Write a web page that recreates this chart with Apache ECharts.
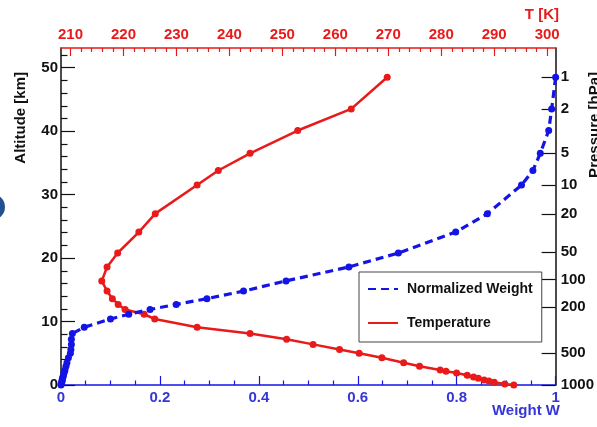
<!DOCTYPE html>
<html><head><meta charset="utf-8">
<script src="https://cdn.jsdelivr.net/npm/echarts@6/dist/echarts.min.js"></script>
<style>html,body{margin:0;padding:0;background:#fff}#c{width:597px;height:427px}</style>
</head><body><div id="c"></div>
<script>
// ---- data ----
const levelAltitudes = [48.5, 43.5, 40.1, 36.5, 33.8, 31.5, 27.0, 24.1, 20.8, 18.6, 16.4, 14.8, 13.6, 12.7, 11.9, 11.15, 10.4, 9.1, 8.1, 7.2, 6.4, 5.6, 5.0, 4.3, 3.5, 2.95, 2.37, 2.16, 1.9, 1.53, 1.26, 1.05, 0.79, 0.63, 0.43, 0.16, 0];
const weightValues = [1.0, 0.992, 0.986, 0.969, 0.954, 0.931, 0.862, 0.798, 0.682, 0.582, 0.455, 0.369, 0.295, 0.233, 0.180, 0.137, 0.100, 0.047, 0.023, 0.021, 0.021, 0.020, 0.019, 0.015, 0.012, 0.010, 0.008, 0.007, 0.006, 0.005, 0.004, 0.003, 0.0025, 0.002, 0.0015, 0.0005, 0];
const temperatureValues = [269.8, 263.0, 252.9, 243.9, 237.9, 233.9, 226.0, 222.9, 218.9, 216.9, 215.9, 216.9, 217.9, 219.0, 220.3, 223.9, 225.9, 233.9, 243.9, 250.8, 255.8, 260.8, 264.5, 268.8, 272.9, 275.9, 279.8, 280.9, 282.9, 284.9, 286.1, 287.0, 288.1, 289.0, 290.0, 292.0, 293.7];

const weightTicks = [0, 0.2, 0.4, 0.6, 0.8, 1];
const temperatureTicks = [210, 220, 230, 240, 250, 260, 270, 280, 290, 300];
const altitudeTicks = [0, 10, 20, 30, 40, 50];
const pressureTickLabels = ['1', '2', '5', '10', '20', '50', '100', '200', '500', '1000'];
const pressureTickAltitudes = [48.5, 43.5, 36.5, 31.5, 26.9, 20.9, 16.6, 12.3, 5.0, 0];

// ---- helpers ----
function minorList(min, max, step, major) {
  const out = [];
  for (let v = min; v <= max + 1e-9; v += step) {
    const r = Math.round(v * 10000) / 10000;
    if (Math.abs(r / major - Math.round(r / major)) > 1e-6) out.push(r);
  }
  return out;
}
const weightMinor = minorList(0, 1, 0.05, 0.2);
const tempMinor = minorList(210, 300, 2, 10);
const altMinor = minorList(0, 52, 2, 10);

const FONT = '"Liberation Sans", Arial, Helvetica, sans-serif';
const RED = '#e81a1a', BLUE = '#1414e6', BLUE_TXT = '#3636d6', BLACK = '#111111';
const T_MIN = 208.2, T_MAX = 301.6, Z_MAX = 53.1;

const lbl = (color, margin) => ({ color, fontWeight: 'bold', fontSize: 15, fontFamily: FONT, margin });

const chart = echarts.init(document.getElementById('c'));
chart.setOption({
  animation: false,
  backgroundColor: '#ffffff',
  grid: { left: 61, right: 38, top: 48, bottom: 42, containLabel: false },
  legend: {
    orient: 'vertical', left: 359, top: 272,
    padding: [10, 9, 12, 8], itemGap: 20, itemWidth: 30, itemHeight: 14,
    backgroundColor: '#ffffff', borderColor: '#444', borderWidth: 1,
    itemStyle: { opacity: 0 },
    textStyle: { fontFamily: FONT, fontWeight: 'bold', fontSize: 14, color: BLACK, padding: [0, 0, 0, 4] },
    data: ['Normalized Weight', 'Temperature']
  },
  xAxis: [
    { type: 'value', position: 'bottom', min: 0, max: 1,
      axisLine: { onZero: false, lineStyle: { color: BLUE, width: 1.5 } },
      axisTick: { inside: true, length: 9, customValues: weightTicks, lineStyle: { color: BLUE, width: 1.2 } },
      axisLabel: Object.assign({ customValues: weightTicks }, lbl(BLUE_TXT, 5)),
      splitLine: { show: false } },
    { type: 'value', position: 'top', min: T_MIN, max: T_MAX,
      axisLine: { onZero: false, lineStyle: { color: RED, width: 1.5 } },
      axisTick: { inside: true, length: 8, customValues: temperatureTicks, lineStyle: { color: RED, width: 1.2 } },
      axisLabel: Object.assign({ customValues: temperatureTicks }, lbl(RED, 6)),
      splitLine: { show: false } },
    { type: 'value', position: 'bottom', min: 0, max: 1,
      axisLine: { show: false, onZero: false },
      axisTick: { inside: true, length: 4.5, customValues: weightMinor, lineStyle: { color: BLUE, width: 1.2 } },
      axisLabel: { show: false }, splitLine: { show: false } },
    { type: 'value', position: 'top', min: T_MIN, max: T_MAX,
      axisLine: { show: false, onZero: false },
      axisTick: { inside: true, length: 4, customValues: tempMinor, lineStyle: { color: RED, width: 1.2 } },
      axisLabel: { show: false }, splitLine: { show: false } }
  ],
  yAxis: [
    { type: 'value', position: 'left', min: 0, max: Z_MAX,
      axisLine: { onZero: false, lineStyle: { color: BLACK, width: 1.5 } },
      axisTick: { inside: true, length: 14, customValues: altitudeTicks, lineStyle: { color: BLACK, width: 1.2 } },
      axisLabel: Object.assign({ customValues: altitudeTicks }, lbl(BLACK, 3)),
      splitLine: { show: false } },
    { type: 'value', position: 'left', min: 0, max: Z_MAX,
      axisLine: { show: false, onZero: false },
      axisTick: { inside: true, length: 6.5, customValues: altMinor, lineStyle: { color: BLACK, width: 1.2 } },
      axisLabel: { show: false }, splitLine: { show: false } },
    { type: 'value', position: 'right', min: 0, max: Z_MAX,
      axisLine: { onZero: false, lineStyle: { color: BLACK, width: 1.5 } },
      axisTick: { inside: true, length: 14, customValues: pressureTickAltitudes, lineStyle: { color: BLACK, width: 1.2 } },
      axisLabel: Object.assign({
        customValues: pressureTickAltitudes,
        formatter: function (v) {
          const i = pressureTickAltitudes.findIndex(a => Math.abs(a - v) < 1e-6);
          return i >= 0 ? pressureTickLabels[i] : '';
        }
      }, lbl(BLACK, 5)),
      splitLine: { show: false } }
  ],
  series: [
    { type: 'line', name: 'Normalized Weight', xAxisIndex: 0, yAxisIndex: 0, clip: false,
      data: weightValues.map((w, i) => [w, levelAltitudes[i]]),
      symbol: 'circle', symbolSize: 7, showSymbol: true,
      lineStyle: { color: BLUE, width: 3.2, type: [8, 5] },
      itemStyle: { color: BLUE }, z: 3 },
    { type: 'line', name: 'Temperature', xAxisIndex: 1, yAxisIndex: 0, clip: false,
      data: temperatureValues.map((t, i) => [t, levelAltitudes[i]]),
      symbol: 'circle', symbolSize: 7, showSymbol: true,
      lineStyle: { color: RED, width: 2.5 },
      itemStyle: { color: RED }, z: 2 }
  ],
  graphic: [
    { type: 'text', x: 21, y: 72, rotation: Math.PI / 2,
      style: { text: 'Altitude [km]', fill: BLACK, font: 'bold 15px ' + FONT, textAlign: 'right', textVerticalAlign: 'middle' } },
    { type: 'text', x: 595, y: 72, rotation: Math.PI / 2,
      style: { text: 'Pressure [hPa]', fill: BLACK, font: 'bold 15px ' + FONT, textAlign: 'right', textVerticalAlign: 'middle' } },
    { type: 'text', x: 559, y: 15,
      style: { text: 'T [K]', fill: RED, font: 'bold 15px ' + FONT, textAlign: 'right', textVerticalAlign: 'middle' } },
    { type: 'text', x: 560, y: 411,
      style: { text: 'Weight W', fill: BLUE_TXT, font: 'bold 15px ' + FONT, textAlign: 'right', textVerticalAlign: 'middle' } },
    { type: 'circle', shape: { cx: -8, cy: 207, r: 13 }, style: { fill: '#24508f' } }
  ]
});
</script>
</body></html>
